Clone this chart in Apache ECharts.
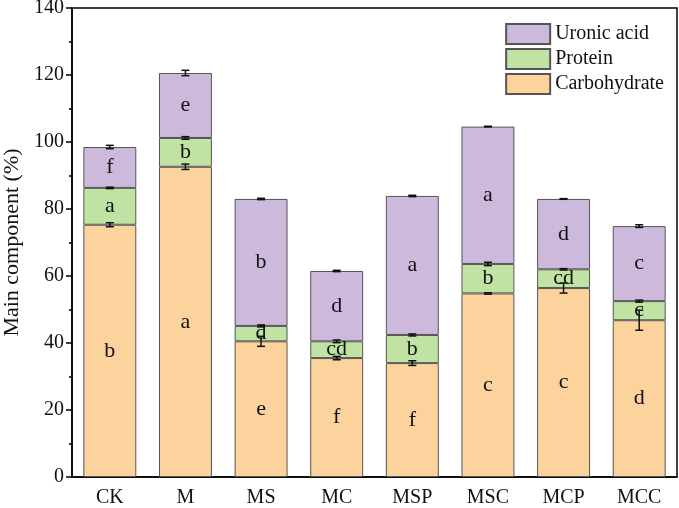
<!DOCTYPE html>
<html>
<head>
<meta charset="utf-8">
<script src="https://cdn.jsdelivr.net/npm/echarts@6/dist/echarts.min.js"></script>
<style>
  html, body { margin: 0; padding: 0; background: #fff; }
  #main { width: 679px; height: 508px; }
</style>
</head>
<body>
<div id="main"></div>
<script>
// categories
const groups = ['CK', 'M', 'MS', 'MC', 'MSP', 'MSC', 'MCP', 'MCC'];
// component values (%)
const carbohydrate = [75.3, 92.6, 40.5, 35.5, 34.0, 54.8, 56.4, 46.8];
const protein = [11.0, 8.6, 4.6, 5.0, 8.4, 8.8, 5.6, 5.7];
const uronicAcid = [12.2, 19.4, 37.9, 21.0, 41.5, 41.0, 21.0, 22.4];
// error (SD) at the top of each segment
const carbErr = [0.6, 0.8, 1.5, 0.5, 0.7, 0.2, 1.5, 3.0];
const protErr = [0.2, 0.4, 0.3, 0.4, 0.3, 0.5, 0.2, 0.3];
const uronErr = [0.5, 0.8, 0.2, 0.2, 0.2, 0.1, 0.1, 0.4];
// significance letters
const carbLetters = ['b', 'a', 'e', 'f', 'f', 'c', 'c', 'd'];
const protLetters = ['a', 'b', 'd', 'cd', 'b', 'b', 'cd', 'c'];
const uronLetters = ['f', 'e', 'b', 'd', 'a', 'a', 'd', 'c'];

const serif = 'Liberation Serif';

// error bar points at cumulative tops
const errData = [];
groups.forEach((g, i) => {
  const c = carbohydrate[i];
  const p = c + protein[i];
  const u = p + uronicAcid[i];
  errData.push([i, c, carbErr[i]]);
  errData.push([i, p, protErr[i]]);
  errData.push([i, u, uronErr[i]]);
});

function barSeries(name, values, letters, color) {
  return {
    name: name,
    type: 'bar',
    stack: 'total',
    barWidth: '70%',
    data: values,
    itemStyle: { color: color, borderColor: '#555', borderWidth: 1 },
    label: {
      show: true,
      position: 'inside',
      formatter: p => letters[p.dataIndex],
      fontFamily: serif,
      fontSize: 22,
      color: '#111'
    }
  };
}

const chart = echarts.init(document.getElementById('main'));
chart.setOption({
  animation: false,
  grid: {
    left: 72, right: 2, top: 8, bottom: 31,
    outerBoundsMode: 'none',
    show: true, borderColor: '#000', borderWidth: 1.5
  },
  legend: {
    data: ['Uronic acid', 'Protein', 'Carbohydrate'],
    orient: 'vertical',
    right: 10,
    top: 18,
    icon: 'rect',
    itemWidth: 44,
    itemHeight: 20,
    itemGap: 3,
    textStyle: { fontFamily: serif, fontSize: 20, color: '#111' }
  },
  xAxis: {
    type: 'category',
    data: groups,
    axisLine: { lineStyle: { color: '#000', width: 1.5 } },
    axisTick: { alignWithLabel: true, length: 5, lineStyle: { color: '#000', width: 1.5 } },
    axisLabel: { fontFamily: serif, fontSize: 20, color: '#111', margin: 11 }
  },
  yAxis: {
    type: 'value',
    min: 0,
    max: 140,
    interval: 20,
    name: 'Main component (%)',
    nameLocation: 'middle',
    nameGap: 47,
    nameTextStyle: { fontFamily: serif, fontSize: 22, color: '#111' },
    axisLine: { show: true, lineStyle: { color: '#000', width: 1.5 } },
    axisTick: { show: true, length: 6, lineStyle: { color: '#000', width: 1.5 } },
    minorTick: { show: true, splitNumber: 2, length: 3, lineStyle: { color: '#000', width: 1.5 } },
    splitLine: { show: false },
    axisLabel: { fontFamily: serif, fontSize: 20, color: '#111', margin: 8 }
  },
  series: [
    barSeries('Carbohydrate', carbohydrate, carbLetters, '#fdd39d'),
    barSeries('Protein', protein, protLetters, '#c0e3a3'),
    barSeries('Uronic acid', uronicAcid, uronLetters, '#cdb9dc'),
    {
      type: 'custom',
      name: 'err',
      z: 10,
      data: errData,
      renderItem: function (params, api) {
        const x = api.value(0);
        const y = api.value(1);
        const e = api.value(2);
        const hi = api.coord([x, y + e]);
        const lo = api.coord([x, y - e]);
        const cap = 4;
        const style = { stroke: '#111', lineWidth: 1.5 };
        return {
          type: 'group',
          children: [
            { type: 'line', shape: { x1: hi[0], y1: hi[1], x2: lo[0], y2: lo[1] }, style: style },
            { type: 'line', shape: { x1: hi[0] - cap, y1: hi[1], x2: hi[0] + cap, y2: hi[1] }, style: style },
            { type: 'line', shape: { x1: lo[0] - cap, y1: lo[1], x2: lo[0] + cap, y2: lo[1] }, style: style }
          ]
        };
      }
    }
  ]
});
</script>
</body>
</html>
